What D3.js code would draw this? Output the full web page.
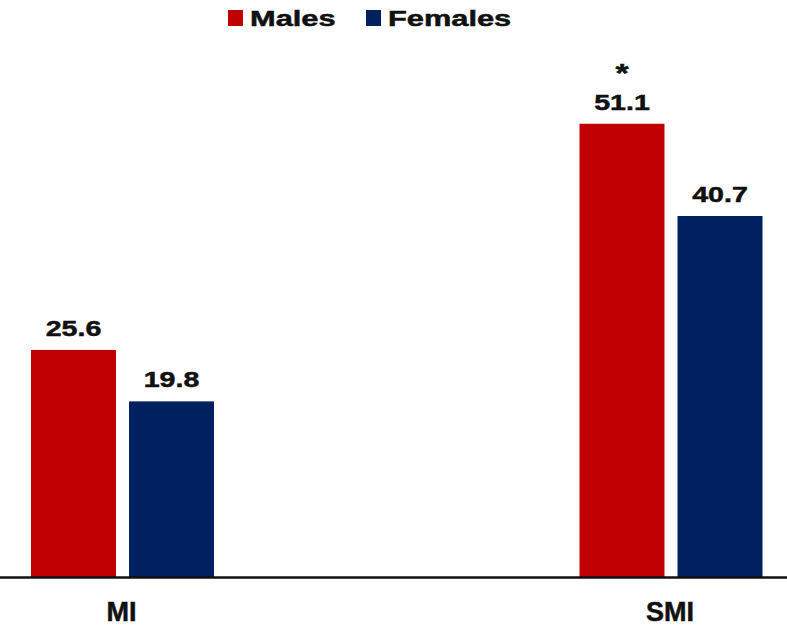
<!DOCTYPE html>
<html lang="en">
<head>
<meta charset="utf-8">
<title>MI / SMI by sex</title>
<script src="https://d3js.org/d3.v7.min.js"></script>
<style>
	body { margin: 0; background: #fff; }
	text { font-family: "Liberation Sans", Arial, sans-serif; font-weight: bold; fill: #111; stroke: #111; stroke-width: 0.5; }
</style>
</head>
<body>
<div id="chart"></div>
<script>
// data
let categories = ["MI", "SMI"];
let series = ["Males", "Females"];
let males = [25.6, 51.1];
let females = [19.8, 40.7];
let marks = ["", "*"];   // significance star above the males bar
let colors = ["#C00000", "#002060"];

let width = 787, height = 630;
let baseY = 577;
let stretch = 1.3;   // the original lettering is wide, so widen it

let svg = d3.select("#chart").append("svg")
	.attr("width", width)
	.attr("height", height);

// group centres and bars inside each group
let x0 = d3.scalePoint().domain(categories).range([122.5, 671]);
let x1 = d3.scaleBand().domain(series).range([-91.5, 91.5]).paddingInner(0.133);
let y = d3.scaleLinear().domain([0, 60]).range([baseY, baseY - 60 * 8.87]);

let rows = [];
categories.forEach((c, i) => {
	rows.push({cat: c, s: "Males", v: males[i], mark: marks[i]});
	rows.push({cat: c, s: "Females", v: females[i], mark: ""});
});

let color = d3.scaleOrdinal().domain(series).range(colors);

let bars = svg.selectAll("g.bar")
	.data(rows)
	.enter()
	.append("g")
	.attr("class", "bar")
	.attr("transform", d => "translate(" + (x0(d.cat) + x1(d.s)) + ",0)");

bars.append("rect")
	.attr("y", d => y(d.v))
	.attr("width", x1.bandwidth())
	.attr("height", d => y(0) - y(d.v))
	.attr("fill", d => color(d.s));

bars.append("text")
	.attr("transform", d => "translate(" + x1.bandwidth() / 2 + "," + (y(d.v) - 14) + ") scale(" + stretch + ",1)")
	.attr("text-anchor", "middle")
	.style("font-size", "22px")
	.text(d => d.v.toFixed(1));

bars.filter(d => d.mark)
	.append("text")
	.attr("transform", d => "translate(" + x1.bandwidth() / 2 + "," + (y(d.v) - 42) + ") scale(" + stretch + ",1)")
	.attr("text-anchor", "middle")
	.style("font-size", "26px")
	.text(d => d.mark);

// baseline
svg.append("line")
	.attr("x1", 0).attr("x2", width)
	.attr("y1", y(0) + 0.5).attr("y2", y(0) + 0.5)
	.attr("stroke", "#111")
	.attr("stroke-width", 2.5);

// category labels
svg.selectAll("text.cat")
	.data(categories)
	.enter()
	.append("text")
	.attr("class", "cat")
	.attr("x", d => x0(d) - 1)
	.attr("y", 621)
	.attr("text-anchor", "middle")
	.style("font-size", "27px")
	.text(d => d);

// legend
let legendX = [228, 366];
let legend = svg.selectAll("g.legend")
	.data(series)
	.enter()
	.append("g")
	.attr("class", "legend")
	.attr("transform", (d, i) => "translate(" + legendX[i] + ",10)");
legend.append("rect")
	.attr("width", 15).attr("height", 16)
	.attr("fill", d => color(d));
legend.append("text")
	.attr("transform", "translate(22,16) scale(1.4,1)")
	.style("font-size", "22px")
	.text(d => d);
</script>
</body>
</html>
